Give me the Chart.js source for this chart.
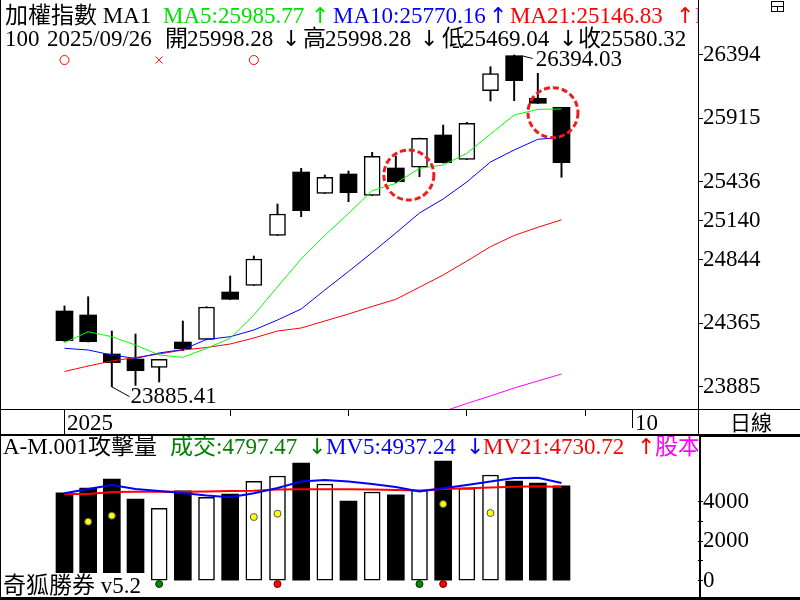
<!DOCTYPE html>
<html><head><meta charset="utf-8">
<script src="https://cdn.jsdelivr.net/npm/chart.js@4"></script>
<style>
html,body{margin:0;padding:0;background:#fff;width:800px;height:600px;overflow:hidden}
canvas{position:absolute;left:0}
#a{top:0}
#b{top:410px}
</style></head><body>
<canvas id="a" width="800" height="410"></canvas>
<canvas id="b" width="800" height="190"></canvas>
<script>
// ---------------- data ----------------
const dates = ['08/28','08/29','09/01','09/02','09/03','09/04','09/05','09/08','09/09','09/10','09/11','09/12','09/15','09/16','09/17','09/18','09/19','09/22','09/23','09/24','09/25','09/26'];
const opens  = [24457.6,24427.4,24132.4,24094.5,24031.8,24223.1,24243.5,24601.3,24652.0,25030.2,25509.0,25347.9,25493.9,25332.8,25539.3,25544.6,25788.9,25605.1,26124.0,26388.7,26066.5,25998.28];
const highs  = [24495.4,24565.8,24306.3,24283.6,24092.3,24382.0,24490.0,24722.4,24873.6,25267.0,25537.0,25486.3,25516.6,25658.0,25630.0,25766.0,25864.5,25885.0,26305.5,26394.03,26255.6,25998.28];
const lows   = [24228.0,24223.0,23885.41,23895.0,23920.6,24157.3,24240.0,24544.0,24650.0,25028.0,25170.9,25346.0,25284.4,25331.0,25428.0,25473.5,25577.0,25603.0,26046.0,26048.3,26027.0,25469.04];
const closes = [24233.0,24225.4,24066.6,24006.0,24092.3,24172.4,24487.9,24546.1,24850.9,25191.3,25216.3,25468.9,25352.4,25627.8,25435.6,25763.9,25579.4,25877.4,26252.6,26199.6,26028.7,25580.32];
const ma5  = [24217.8,24301,24263,24200,24125,24107,24175,24251,24427,24641,24851,25030,25195,25368,25423,25537,25562,25650,25796,25940,25983,25985.77];
const ma10 = [24175.5,24162.6,24124.8,24098.3,24140,24166.4,24242,24263.2,24313.9,24389.5,24472.7,24616.5,24756.4,24900.1,25047.6,25198.9,25304.8,25433.4,25584.7,25675.4,25756.4,25770.16];
const ma21 = [24000,24041.6,24079.4,24105.9,24132.4,24162.6,24181.5,24208,24253.4,24306.3,24329,24382,24434.9,24491.7,24546.1,24637.6,24729.9,24835.1,24944,25028.7,25090.7,25146.83];
const ma60 = [null,null,null,null,null,null,null,null,null,null,null,null,null,null,null,null,23697,23758,23815,23875,23928,23981];
const volumes = [4444,4682,5136,4126,3657,4545,4212,4379,5020,5288,5944,4884,4025,4480,4343,4581,6045,4667,5338,5035,4934,4797.47];
const mv5  = [4414,4631,4833,4631,4530,4429,4303,4212,4414,4682,5010,5086,5010,4884,4732,4505,4667,4833,5010,5187,5202,4937.24];
const mv21 = [4379,4379,4480,4495,4495,4495,4505,4530,4545,4606,4616,4616,4616,4606,4581,4556,4631,4667,4707,4747,4768,4730.72];
const attackVol = [null,2980,3283,null,null,null,null,null,3217,3384,null,null,null,null,null,null,3874,null,3419,null,null,null];
const volGreenSignal = [4,15];
const volRedSignal = [9,16];
const volSignalLevel = -167;
const signalCircleIdx = [0,8];
const signalCrossIdx = [4];
const signalLevel = 26356;
const highlightCircles = [{x:14.55,y:25486},{x:20.64,y:25958}];
const priceTicks = [23885,24365,24844,25140,25436,25915,26394];
const volTicks = [0,1000,2000,3000,4000];
const volTickLabels = [0,2000,4000];
const dateTicks = [{i:0,label:'2025',len:26},{i:7,label:'',len:6},{i:12,label:'',len:6},{i:17,label:'',len:6},{i:22,label:'',len:6},{i:24,label:'10',len:18}];
const lastDate = '2025/09/26';
const indexName = '加權指數';
const periodName = '日線';

// ---------------- helpers ----------------
const FONT = '23px "Liberation Serif", "Noto Sans CJK TC"';
const ARROW_FONT = '22px "DejaVu Sans"';
const XMIN = -2.7254, XMAX = 26.768;
const N = closes.length;
const idx = [...Array(N).keys()];
const upIdx = idx.filter(i => closes[i] >= opens[i]);
const dnIdx = idx.filter(i => closes[i] < opens[i]);
const pts = (arr) => arr.map((v,i)=>({x:i,y:v})).filter(p=>p.y!==null);
const f2 = v => v.toFixed(2);

function drawSegs(ctx, segs, y){
  ctx.textBaseline='alphabetic'; ctx.textAlign='left';
  segs.forEach(s=>{
    ctx.font = (s[0]==='↑'||s[0]==='↓') ? ARROW_FONT : FONT;
    ctx.fillStyle=s[2]; ctx.fillText(s[0], s[1], y);
  });
}

const TXTGREEN='#00e000';

// ---------------- chart A (price) ----------------
const decorA = {
  id:'decorA',
  afterDatasetsDraw(chart){
    const {ctx, scales:{x,y}} = chart;
    ctx.save();
    ctx.strokeStyle='#f01c1c'; ctx.lineWidth=3; ctx.setLineDash([6,3]);
    highlightCircles.forEach(c=>{
      ctx.beginPath(); ctx.arc(x.getPixelForValue(c.x), y.getPixelForValue(c.y), 25, 0, Math.PI*2); ctx.stroke();
    });
    ctx.setLineDash([]);
    let hi = 0, lo = 0;
    idx.forEach(i=>{ if(highs[i]>highs[hi]) hi=i; if(lows[i]<lows[lo]) lo=i; });
    ctx.strokeStyle='#000'; ctx.lineWidth=1; ctx.fillStyle='#000'; ctx.font=FONT; ctx.textBaseline='middle'; ctx.textAlign='left';
    let px = x.getPixelForValue(hi)+8.5, py = y.getPixelForValue(highs[hi]);
    ctx.beginPath(); ctx.moveTo(px, py+1); ctx.lineTo(px+10, py+3.5); ctx.stroke();
    ctx.fillText(f2(highs[hi]), px+13, py+5);
    px = Math.floor(x.getPixelForValue(lo))+0.5; py = y.getPixelForValue(lows[lo]);
    ctx.beginPath(); ctx.moveTo(px, py); ctx.lineTo(px+18, py+10); ctx.stroke();
    ctx.fillText(f2(lows[lo]), px+19, py+10);
    ctx.restore();
  },
  afterDraw(chart){
    const ctx = chart.ctx; const L = N-1;
    ctx.save();
    ctx.beginPath(); ctx.rect(0,0,698,410); ctx.clip();
    drawSegs(ctx, [
      [indexName+' MA1',5,'#000'],
      ['MA5:'+f2(ma5[L]),163,TXTGREEN],['↑',311,TXTGREEN],
      ['MA10:'+f2(ma10[L]),333,'#0000ff'],['↑',489,'#0000ff'],
      ['MA21:'+f2(ma21[L]),510,'#ff0000'],['↑',676,'#ff0000'],
      ['MA60',695,'#ff00ff']
    ], 23);
    drawSegs(ctx, [
      ['100',5,'#000'],[lastDate,47,'#000'],
      ['開',165,'#000'],[f2(opens[L]),187,'#000'],['↓',282,'#000'],
      ['高',303,'#000'],[f2(highs[L]),325,'#000'],['↓',420,'#000'],
      ['低',442,'#000'],[f2(lows[L]),463,'#000'],['↓',559,'#000'],
      ['收',578,'#000'],[f2(closes[L]),600,'#000']
    ], 46);
    ctx.restore();
    ctx.save();
    ctx.strokeStyle='#000'; ctx.lineWidth=1;
    ctx.beginPath();
    ctx.moveTo(0.5,0); ctx.lineTo(0.5,410);
    ctx.moveTo(698.5,0); ctx.lineTo(698.5,410);
    ctx.moveTo(0,409.5); ctx.lineTo(800,409.5);
    ctx.stroke();
    ctx.strokeRect(771.5,1.5,12,10);
    ctx.beginPath(); ctx.moveTo(771.5,6.5); ctx.lineTo(783.5,6.5); ctx.moveTo(777.5,6.5); ctx.lineTo(777.5,11.5); ctx.stroke();
    ctx.restore();
  }
};

const yAfterFit = s => { s.width = 102; s.paddingTop = 0; s.paddingBottom = 0; s.paddingLeft = 0; s.paddingRight = 0; };

new Chart(document.getElementById('a'), {
  type:'bar',
  data:{ datasets:[
    {type:'line', data:pts(ma5), borderColor:'#00ff00', borderWidth:1, pointRadius:0, order:0},
    {type:'line', data:pts(ma10), borderColor:'#0000ff', borderWidth:1, pointRadius:0, order:0},
    {type:'line', data:pts(ma21), borderColor:'#ff0000', borderWidth:1, pointRadius:0, order:0},
    {type:'line', data:pts(ma60), borderColor:'#ff00ff', borderWidth:1, pointRadius:0, order:0},
    {type:'line', data:signalCircleIdx.map(i=>({x:i,y:signalLevel})), showLine:false, pointStyle:'circle', pointRadius:4.5, pointBorderColor:'#ff0000', pointBackgroundColor:'rgba(0,0,0,0)', pointBorderWidth:1, order:0},
    {type:'line', data:signalCrossIdx.map(i=>({x:i,y:signalLevel})), showLine:false, pointStyle:'crossRot', pointRadius:5, pointBorderColor:'#ff0000', pointBorderWidth:1, order:0},
    {type:'bar', data:dnIdx.map(i=>({x:i,y:[closes[i],opens[i]]})), backgroundColor:'#000', borderWidth:0, barThickness:17, grouped:false, order:1},
    {type:'bar', data:upIdx.map(i=>({x:i,y:[opens[i],closes[i]]})), backgroundColor:'#fff', borderColor:'#000', borderWidth:1.5, borderSkipped:false, barThickness:16, grouped:false, order:1},
    {type:'bar', data:idx.map(i=>({x:i,y:[lows[i],highs[i]]})), backgroundColor:'#000', borderWidth:0, barThickness:1.3, grouped:false, order:2}
  ]},
  options:{
    responsive:false, animation:false, devicePixelRatio:1, events:[],
    layout:{padding:0, autoPadding:false},
    plugins:{legend:{display:false}, tooltip:{enabled:false}},
    scales:{
      x:{type:'linear', min:XMIN, max:XMAX, display:false, offset:false, grid:{offset:false}},
      y:{type:'linear', position:'right', min:23708.8, max:26810,
         afterFit:yAfterFit,
         afterBuildTicks:s=>{ s.ticks = priceTicks.map(v=>({value:v})); },
         ticks:{font:{family:'"Liberation Serif"', size:23}, color:'#000', padding:0, autoSkip:false, callback:v=>String(v)},
         grid:{drawOnChartArea:false, drawTicks:true, tickLength:5, tickColor:'#000', tickWidth:1},
         border:{display:false}}
    }
  },
  plugins:[decorA]
});

// ---------------- chart B (volume) ----------------
const decorB = {
  id:'decorB',
  afterDraw(chart){
    const {ctx, scales:{x}} = chart; const L = N-1;
    ctx.save();
    ctx.fillStyle='#fff'; ctx.fillRect(1,163,147,24);
    ctx.fillStyle='#000'; ctx.font=FONT; ctx.textBaseline='alphabetic'; ctx.textAlign='left';
    ctx.fillText('奇狐勝券 v5.2', 3, 183);
    ctx.save();
    ctx.beginPath(); ctx.rect(0,25,698,165); ctx.clip();
    drawSegs(ctx, [
      ['A-M.001攻擊量',3,'#000'],
      ['成交:'+f2(volumes[L]),170,'#008000'],['↓',308,'#008000'],
      ['MV5:'+f2(mv5[L]),326,'#0000ff'],['↓',466,'#0000ff'],
      ['MV21:'+f2(mv21[L]),483,'#ff0000'],['↑',637,'#ff0000'],
      ['股本',655,'#ff00ff']
    ], 44);
    ctx.restore();
    ctx.strokeStyle='#000'; ctx.lineWidth=1; ctx.fillStyle='#000';
    ctx.font=FONT; ctx.textBaseline='alphabetic'; ctx.textAlign='left';
    dateTicks.forEach(t=>{
      const px = Math.floor(x.getPixelForValue(t.i))+0.5;
      ctx.beginPath(); ctx.moveTo(px,0); ctx.lineTo(px,t.len); ctx.stroke();
      if(t.label) ctx.fillText(t.label, px+2.5, 19.5);
    });
    ctx.font='21px "Noto Sans CJK TC"'; ctx.textAlign='center';
    ctx.fillText(periodName, 751, 20);
    ctx.beginPath();
    ctx.moveTo(0.5,0); ctx.lineTo(0.5,190);
    ctx.moveTo(698.5,0); ctx.lineTo(698.5,25);
    ctx.stroke();
    ctx.fillRect(0,24,700,2);
    ctx.fillRect(700,24,100,3);
    ctx.fillRect(699,25,2,165);
    ctx.fillRect(0,187,800,3);
    ctx.restore();
  }
};

new Chart(document.getElementById('b'), {
  type:'bar',
  data:{ datasets:[
    {type:'line', data:pts(attackVol), showLine:false, pointStyle:'circle', pointRadius:3.5, pointBackgroundColor:'#ffff00', pointBorderColor:'#555', pointBorderWidth:1, order:0},
    {type:'line', data:volGreenSignal.map(i=>({x:i,y:volSignalLevel})), showLine:false, pointRadius:3.5, pointBackgroundColor:'#008a00', pointBorderColor:'#003000', pointBorderWidth:1, order:0},
    {type:'line', data:volRedSignal.map(i=>({x:i,y:volSignalLevel})), showLine:false, pointRadius:3.5, pointBackgroundColor:'#ff0000', pointBorderColor:'#700000', pointBorderWidth:1, order:0},
    {type:'line', data:pts(mv5), borderColor:'#0000ff', borderWidth:2, pointRadius:0, order:1},
    {type:'line', data:pts(mv21), borderColor:'#ff0000', borderWidth:2, pointRadius:0, order:1},
    {type:'bar', data:dnIdx.map(i=>({x:i,y:volumes[i]})), backgroundColor:'#000', borderWidth:0, barThickness:17, grouped:false, order:2},
    {type:'bar', data:upIdx.map(i=>({x:i,y:volumes[i]})), backgroundColor:'#fff', borderColor:'#000', borderWidth:1.5, borderSkipped:false, barThickness:16, grouped:false, order:2}
  ]},
  options:{
    responsive:false, animation:false, devicePixelRatio:1, events:[],
    layout:{padding:{top:25,bottom:3,left:0,right:0}, autoPadding:false},
    plugins:{legend:{display:false}, tooltip:{enabled:false}},
    scales:{
      x:{type:'linear', min:XMIN, max:XMAX, display:false, offset:false, grid:{offset:false}},
      y:{type:'linear', position:'right', min:-823, max:7359,
         afterFit:yAfterFit,
         afterBuildTicks:s=>{ s.ticks = volTicks.map(v=>({value:v})); },
         ticks:{font:{family:'"Liberation Serif"', size:23}, color:'#000', padding:0, autoSkip:false, callback:v=>volTickLabels.includes(v)?String(v):''},
         grid:{drawOnChartArea:false, drawTicks:true, tickLength:5, tickColor:'#000', tickWidth:1},
         border:{display:false}}
    }
  },
  plugins:[decorB]
});
</script>
</body></html>
